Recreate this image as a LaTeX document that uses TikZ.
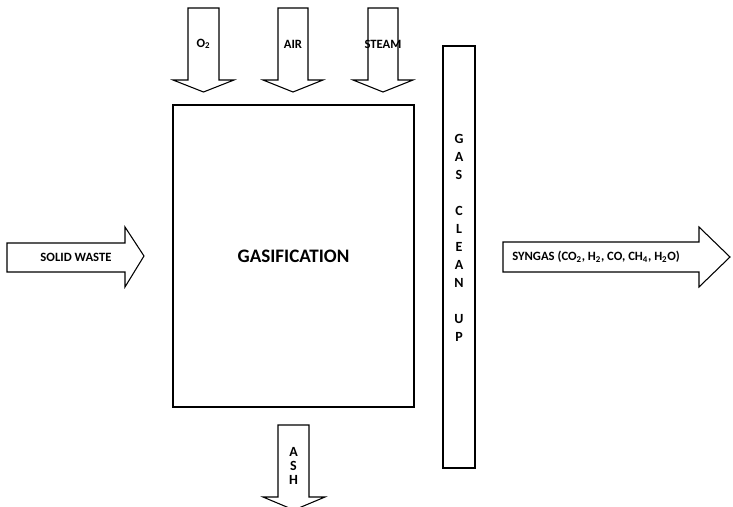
\documentclass[tikz,border=0pt]{standalone}
\usepackage{fontspec}
\setmainfont{Carlito}
\usetikzlibrary{positioning}
\tikzset{
  blockarrow/.style={draw,line width=0.8pt,fill=white,line join=miter},
  lbl/.style={font=\fontsize{9.5}{11}\selectfont\bfseries,inner sep=0pt},
  unitbox/.style={draw,line width=1.6pt,inner sep=0pt}
}

\begin{document}
\begin{tikzpicture}[x=0.75pt,y=-0.75pt]
  \useasboundingbox (0,0) rectangle (733,507);

  % feed arrows on top
  \draw[blockarrow] (188,8) -- (219,8) -- (219,80) -- (234,80) -- (203.5,92) -- (173,80) -- (188,80) -- cycle;
  \draw[blockarrow] (278,8) -- (308,8) -- (308,80) -- (323,80) -- (293,92) -- (263,80) -- (278,80) -- cycle;
  \draw[blockarrow] (368,8) -- (398,8) -- (398,80) -- (413,80) -- (383,92) -- (353,80) -- (368,80) -- cycle;
  \node[lbl] (oxy) at (203.5,44) {O\textsubscript{2}};
  \node[lbl] (air) at (293,44) {AIR};
  \node[lbl] (steam) at (383,44) {STEAM};

  % gasifier
  \node[unitbox,minimum width=180.75pt,minimum height=226.5pt] (gasif) at (293.5,256) {};
  \node[font=\fontsize{14.3}{16}\selectfont\bfseries] (gasiftxt) at (gasif.center) {GASIFICATION};

  % solid waste in
  \draw[blockarrow] (7,243) -- (125,243) -- (125,227) -- (144,256) -- (125,287) -- (125,272) -- (7,272) -- cycle;
  \node[lbl] (waste) at (76,257) {SOLID WASTE};

  % ash out
  \draw[blockarrow] (278,425) -- (309,425) -- (309,497) -- (325,497) -- (294,510) -- (263,497) -- (278,497) -- cycle;
  \node[lbl,align=center,font=\fontsize{10.5}{10.5}\selectfont\bfseries] (ash) at (293.5,466) {A\\S\\H};

  % gas clean up column
  \node[unitbox,minimum width=24pt,minimum height=316.5pt] (cleanup) at (459,257) {};
  \node[lbl,align=center,font=\fontsize{10.5}{13.5}\selectfont\bfseries] (cleantxt) at (459,238)
    {G\\A\\S\\\\C\\L\\E\\A\\N\\\\U\\P};

  % syngas out
  \draw[blockarrow] (503,242) -- (699,242) -- (699,227) -- (730,257) -- (699,287) -- (699,272) -- (503,272) -- cycle;
  \node[lbl] (syngas) at (596,257) {SYNGAS (CO\textsubscript{2}, H\textsubscript{2}, CO, CH\textsubscript{4}, H\textsubscript{2}O)};
\end{tikzpicture}
\end{document}
